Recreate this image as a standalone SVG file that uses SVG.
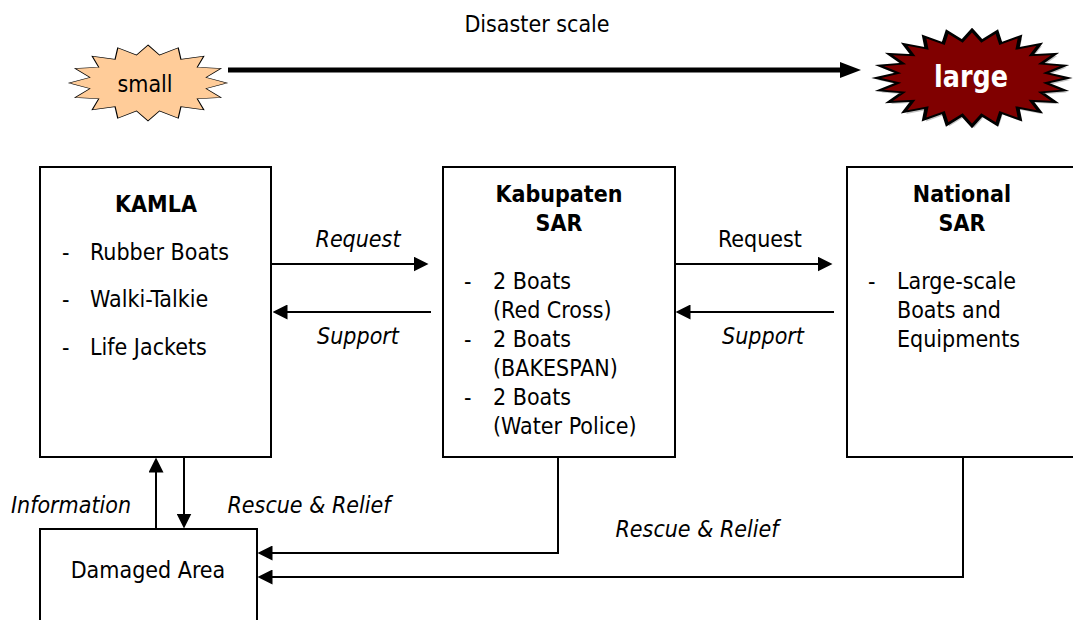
<svg xmlns="http://www.w3.org/2000/svg" width="1073" height="620" viewBox="0 0 1073 620">
  <style>
    text { font-family: "DejaVu Sans Condensed", "DejaVu Sans", sans-serif; font-size: 23px; fill: #000; }
    .b { font-weight: bold; }
    .i { font-style: italic; }
    .c { text-anchor: middle; }
    .box { fill: #fff; stroke: #000; stroke-width: 2; }
    .conn { fill: none; stroke: #000; stroke-width: 2; }
    .star { stroke: #000; stroke-width: 2; stroke-linejoin: miter; }
  </style>
  <defs>
    <marker id="head" viewBox="0 0 10 10" refX="7" refY="5" markerUnits="userSpaceOnUse" markerWidth="15" markerHeight="15" orient="auto">
      <path d="M0,0 L10,5 L0,10 Z" fill="#000"/>
    </marker>
    <!-- unit 16-point star, radius 100 -->
    <polygon id="star16" points="0,-100 14.63,-73.56 38.27,-92.39 41.67,-62.36 70.71,-70.71 62.36,-41.67 92.39,-38.27 73.56,-14.63 100,0 73.56,14.63 92.39,38.27 62.36,41.67 70.71,70.71 41.67,62.36 38.27,92.39 14.63,73.56 0,100 -14.63,73.56 -38.27,92.39 -41.67,62.36 -70.71,70.71 -62.36,41.67 -92.39,38.27 -73.56,14.63 -100,0 -73.56,-14.63 -92.39,-38.27 -62.36,-41.67 -70.71,-70.71 -41.67,-62.36 -38.27,-92.39 -14.63,-73.56"/>
    <!-- unit 24-point star, radius 100 -->
    <polygon id="star24" points="0,-100 10.18,-77.33 25.88,-96.59 29.85,-72.06 50,-86.6 47.48,-61.88 70.71,-70.71 61.88,-47.48 86.6,-50 72.06,-29.85 96.59,-25.88 77.33,-10.18 100,0 77.33,10.18 96.59,25.88 72.06,29.85 86.6,50 61.88,47.48 70.71,70.71 47.48,61.88 50,86.6 29.85,72.06 25.88,96.59 10.18,77.33 0,100 -10.18,77.33 -25.88,96.59 -29.85,72.06 -50,86.6 -47.48,61.88 -70.71,70.71 -61.88,47.48 -86.6,50 -72.06,29.85 -96.59,25.88 -77.33,10.18 -100,0 -77.33,-10.18 -96.59,-25.88 -72.06,-29.85 -86.6,-50 -61.88,-47.48 -70.71,-70.71 -47.48,-61.88 -50,-86.6 -29.85,-72.06 -25.88,-96.59 -10.18,-77.33"/>
  </defs>

  <rect width="1073" height="620" fill="#fff"/>

  <!-- scale header -->
  <g id="scale">
    <text class="c" x="537" y="32">Disaster scale</text>
    <line x1="228" y1="70" x2="842" y2="70" stroke="#000" stroke-width="5"/>
    <polygon points="840,62 861,70 840,78" fill="#000"/>
  </g>

  <g id="small">
    <use href="#star16" class="star" fill="#FFCC99" vector-effect="non-scaling-stroke" transform="translate(148,83) scale(0.79,0.38)" style="stroke-width:1.5px"/>
    <text class="c" x="145" y="92">small</text>
  </g>

  <g id="large">
    <use href="#star24" fill="#999" opacity="0.6" transform="translate(974,80) scale(0.96,0.48)"/>
    <use href="#star24" class="star" fill="#800000" transform="translate(972,78) scale(0.96,0.48)" style="stroke-width:4px"/>
    <text class="c b" x="971" y="87" style="font-size:30px;fill:#fff" textLength="74" lengthAdjust="spacingAndGlyphs">large</text>
  </g>

  <!-- nodes -->
  <g id="kamla">
    <rect class="box" x="40" y="167" width="231" height="290"/>
    <text class="c b" x="156" y="212">KAMLA</text>
    <text x="62" y="260">-</text><text x="90" y="260">Rubber Boats</text>
    <text x="62" y="307">-</text><text x="90" y="307">Walki-Talkie</text>
    <text x="62" y="355">-</text><text x="90" y="355">Life Jackets</text>
  </g>

  <g id="kabupaten">
    <rect class="box" x="443" y="167" width="232" height="290"/>
    <text class="c b" x="559" y="202">Kabupaten</text>
    <text class="c b" x="559" y="231">SAR</text>
    <text x="464" y="289">-</text><text x="493" y="289">2 Boats</text>
    <text x="493" y="318">(Red Cross)</text>
    <text x="464" y="347">-</text><text x="493" y="347">2 Boats</text>
    <text x="493" y="376">(BAKESPAN)</text>
    <text x="464" y="405">-</text><text x="493" y="405">2 Boats</text>
    <text x="493" y="434">(Water Police)</text>
  </g>

  <g id="national">
    <rect class="box" x="847" y="167" width="232" height="290"/>
    <text class="c b" x="962" y="202">National</text>
    <text class="c b" x="962" y="231">SAR</text>
    <text x="868" y="289">-</text><text x="897" y="289">Large-scale</text>
    <text x="897" y="318">Boats and</text>
    <text x="897" y="347">Equipments</text>
  </g>

  <g id="damaged">
    <rect class="box" x="40" y="529" width="217" height="110"/>
    <text class="c" x="148" y="578">Damaged Area</text>
  </g>

  <!-- connectors -->
  <g id="connectors">
    <line class="conn" x1="271" y1="264" x2="424" y2="264" marker-end="url(#head)"/>
    <line class="conn" x1="431" y1="312" x2="277" y2="312" marker-end="url(#head)"/>
    <line class="conn" x1="675" y1="264" x2="828" y2="264" marker-end="url(#head)"/>
    <line class="conn" x1="834" y1="312" x2="680" y2="312" marker-end="url(#head)"/>
    <line class="conn" x1="156" y1="529" x2="156" y2="462" marker-end="url(#head)"/>
    <line class="conn" x1="184" y1="457" x2="184" y2="524" marker-end="url(#head)"/>
    <polyline class="conn" points="558,457 558,553 262,553" marker-end="url(#head)"/>
    <polyline class="conn" points="963,457 963,577 262,577" marker-end="url(#head)"/>
  </g>

  <!-- connector labels -->
  <g id="labels">
    <text class="c i" x="358" y="247">Request</text>
    <text class="c i" x="358" y="344">Support</text>
    <text class="c" x="760" y="247">Request</text>
    <text class="c i" x="763" y="344">Support</text>
    <text class="c i" x="71" y="513">Information</text>
    <text class="c i" x="309" y="513">Rescue &amp; Relief</text>
    <text class="c i" x="697" y="537">Rescue &amp; Relief</text>
  </g>
</svg>
